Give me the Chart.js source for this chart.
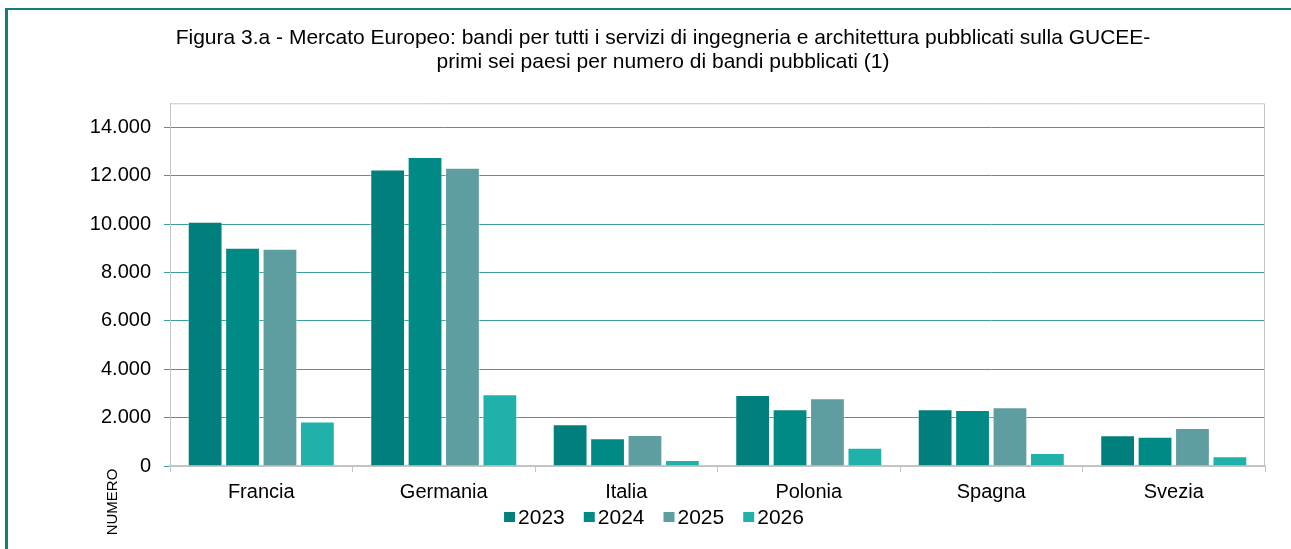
<!DOCTYPE html>
<html lang="it">
<head>
<meta charset="utf-8">
<title>Figura 3.a - Mercato Europeo</title>
<script src="https://cdn.jsdelivr.net/npm/chart.js@4.4.1/dist/chart.umd.min.js"></script>
<style>
    html, body { margin: 0; padding: 0; background: #fff; overflow: hidden; }
    #wrap { position: relative; width: 1291px; height: 549px; }
    #cornice { position: absolute; left: 5px; top: 8px; right: 0; bottom: 0; border-left: 3px solid #0e7f7a; border-top: 2px solid #0e7f7a; pointer-events: none; }
    #grafico { position: absolute; left: 0; top: 0; }
</style>
</head>
<body>
<div id="wrap">
    <canvas id="grafico" width="1291" height="549"></canvas>
    <div id="cornice"></div>
</div>
<script>
// ========== Dati ==========
const paesi = ['Francia', 'Germania', 'Italia', 'Polonia', 'Spagna', 'Svezia'];
const anni = ['2023', '2024', '2025', '2026'];
const bandi2023 = [10100, 12260, 1730, 2940, 2350, 1270];
const bandi2024 = [9030, 12780, 1150, 2350, 2320, 1210];
const bandi2025 = [8980, 12330, 1280, 2800, 2430, 1570];
const bandi2026 = [1840, 2970, 250, 750, 540, 400];
const tickY = [0, 2000, 4000, 6000, 8000, 10000, 12000, 14000];
const titolo = [
    'Figura 3.a - Mercato Europeo: bandi per tutti i servizi di ingegneria e architettura pubblicati sulla GUCEE-',
    'primi sei paesi per numero di bandi pubblicati (1)'
];
const titoloAsse = 'NUMERO';

const coloriAnni = ['#007f7c', '#008a86', '#5f9ea0', '#20b2aa'];
const FONT = 'Arial, "Liberation Sans", sans-serif';

// formato italiano: 14000 -> 14.000
function formatoIt(v) {
    return String(v).replace(/\B(?=(\d{3})+(?!\d))/g, '.');
}

// ========== Cornice area del grafico (lati alto e destro) ==========
const cornicePlot = {
    id: 'cornicePlot',
    afterDraw(chart) {
        const { ctx, chartArea: a } = chart;
        ctx.save();
        ctx.strokeStyle = '#c4c4c4';
        ctx.lineWidth = 1;
        ctx.beginPath();
        ctx.moveTo(a.left, a.top + 0.5);
        ctx.lineTo(a.right - 0.5, a.top + 0.5);
        ctx.lineTo(a.right - 0.5, a.bottom);
        ctx.stroke();
        ctx.restore();
    }
};

// ========== Legenda in basso + titolo asse ==========
const legendaBasso = {
    id: 'legendaBasso',
    afterDraw(chart) {
        const { ctx } = chart;
        ctx.save();
        ctx.font = '21px ' + FONT;
        ctx.textBaseline = 'middle';
        ctx.textAlign = 'left';
        const quad = 11, gap = 3, spazio = 19;
        const larghezze = chart.data.datasets.map(d => quad + gap + ctx.measureText(d.label).width);
        const tot = larghezze.reduce((a, b) => a + b, 0) + spazio * (larghezze.length - 1);
        let x = 654 - tot / 2;
        const y = 517;
        chart.data.datasets.forEach((d, i) => {
            ctx.fillStyle = d.backgroundColor;
            ctx.fillRect(x, y - 5, quad, 10);
            ctx.fillStyle = '#000';
            ctx.fillText(d.label, x + quad + gap, y + 1);
            x += larghezze[i] + spazio;
        });

        // titolo asse Y (finito in basso a sinistra)
        ctx.translate(113, 502);
        ctx.rotate(-Math.PI / 2);
        ctx.font = '15px ' + FONT;
        ctx.textAlign = 'center';
        ctx.fillStyle = '#000';
        ctx.fillText(titoloAsse, 0, 0);
        ctx.restore();
    }
};

const serie = [bandi2023, bandi2024, bandi2025, bandi2026];

new Chart(document.getElementById('grafico').getContext('2d'), {
    type: 'bar',
    data: {
        labels: paesi,
        datasets: anni.map((anno, i) => ({
            label: anno,
            data: serie[i],
            backgroundColor: coloriAnni[i],
            borderColor: 'rgba(255,255,255,0.45)',
            borderWidth: 1,
            categoryPercentage: 0.82,
            barPercentage: 0.93
        }))
    },
    options: {
        responsive: false,
        animation: false,
        layout: { padding: { left: 61, right: 26, top: 0, bottom: 0 } },
        plugins: {
            legend: { display: false },
            tooltip: { enabled: false },
            title: {
                display: true,
                text: titolo,
                color: '#000',
                font: { family: FONT, size: 21, weight: 'normal', lineHeight: 1.15 },
                padding: { top: 26, bottom: 29 }
            }
        },
        scales: {
            x: {
                grid: { offset: true, drawOnChartArea: false, drawTicks: true, tickLength: 6, color: '#c4c4c4' },
                border: { display: true, color: '#c4c4c4', width: 2 },
                ticks: { color: '#000', font: { family: FONT, size: 20 }, padding: 8 },
                afterFit: s => { s.height = 83; }
            },
            y: {
                min: 0,
                max: 15000,
                afterBuildTicks: s => { s.ticks = tickY.map(v => ({ value: v })); },
                ticks: {
                    color: '#000',
                    font: { family: FONT, size: 20 },
                    padding: 13,
                    callback: v => formatoIt(v)
                },
                grid: {
                    color: c => (c.tick && c.tick.value === 0) ? 'rgba(0,0,0,0)' : '#3a9f9c',
                    tickColor: '#3a9f9c',
                    tickLength: 6,
                    lineWidth: 1
                },
                border: { display: true, color: '#c4c4c4', width: 1 },
                afterFit: s => { s.width = 109; }
            }
        }
    },
    plugins: [cornicePlot, legendaBasso]
});
</script>
</body>
</html>
